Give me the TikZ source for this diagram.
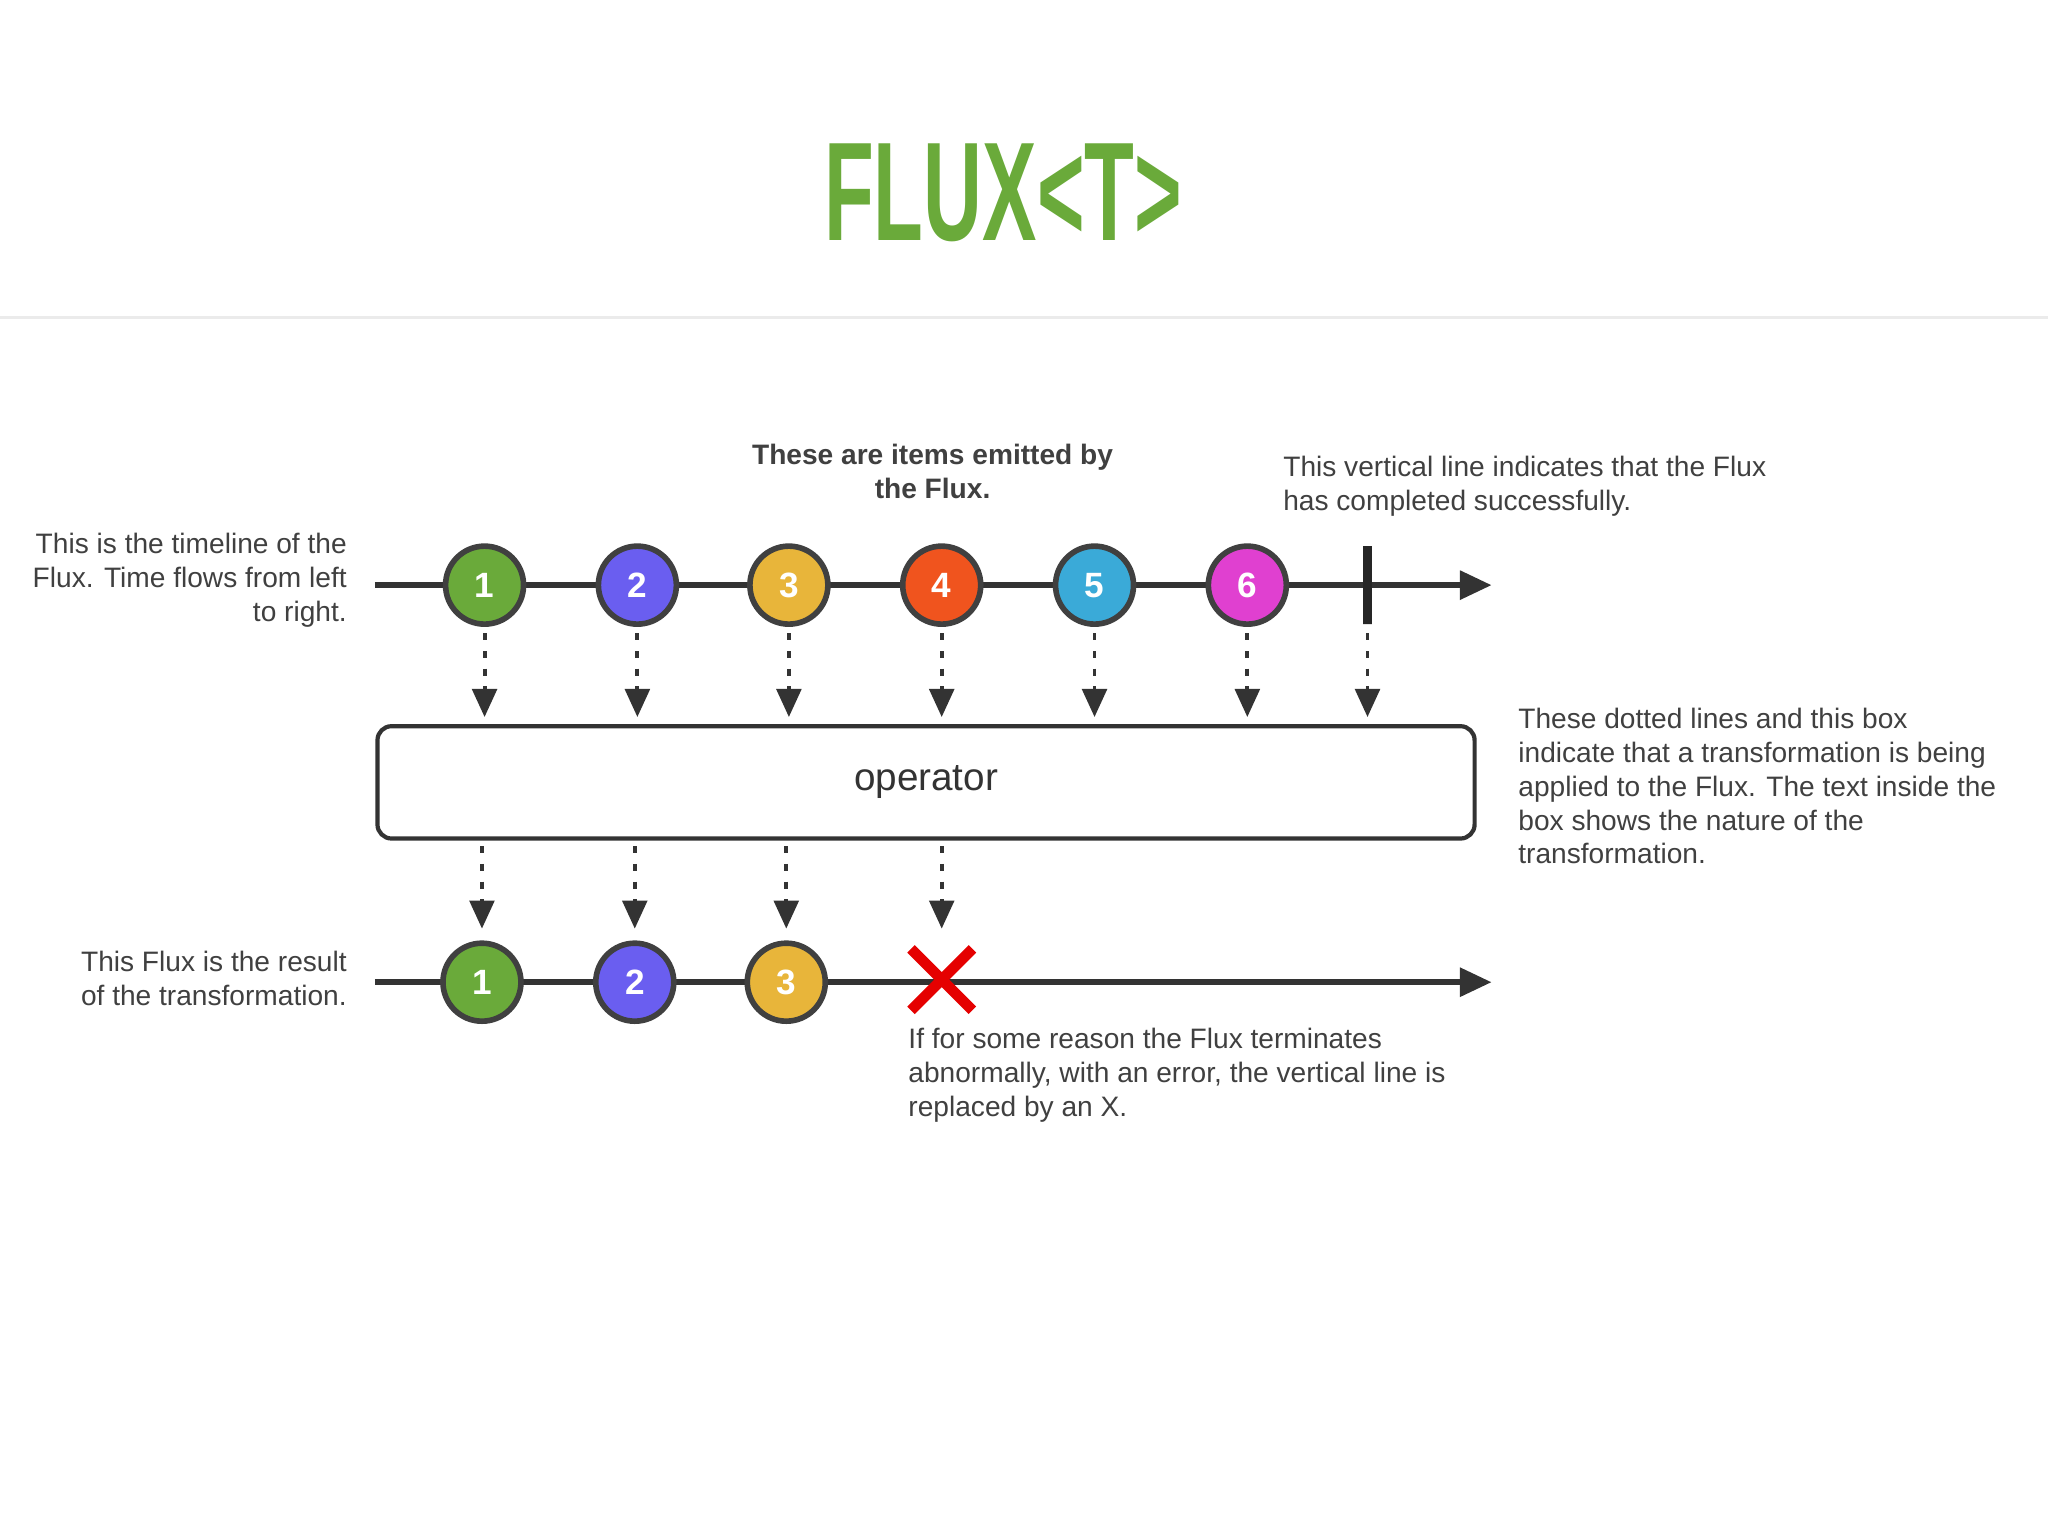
\documentclass[tikz,border=0pt]{standalone}
\usepackage{fontspec}
\setmainfont{Liberation Sans}
\usetikzlibrary{arrows.meta}
\begin{document}
\begin{tikzpicture}[x=0.01306cm,y=-0.01306cm,
  ball/.style={circle,draw=black!75,line width=1.6pt,minimum size=0.78cm,inner sep=0pt,text=white,font=\fontsize{10}{10}\selectfont\bfseries},
  tl/.style={line width=1.6pt,draw=black!80,-{Triangle[length=9pt,width=8pt]}},
  dot/.style={line width=1.1pt,draw=black!80,dash pattern=on 2pt off 3pt,-{Triangle[length=8pt,width=7pt]}},
  lbl/.style={font=\fontsize{8}{9.6}\selectfont,text=black!75,inner sep=0pt}]
\useasboundingbox (0,0) rectangle (1568,1176);
\fill[white] (0,0) rectangle (1568,1176);
\draw[black!8,line width=0.8pt] (0,243) -- (1568,243);
\node (title) at (768,148) {\color[HTML]{6AAA3A}\scalebox{0.58}[1]{\fontsize{40}{40}\selectfont\bfseries FLUX<T>}};
% timelines
\coordinate (ts) at (287,448); \coordinate (te) at (1142,448);
\draw[tl] (ts) -- (te);
\coordinate (bs) at (287,752); \coordinate (be) at (1142,752);
\draw[tl] (bs) -- (be);
\node[ball,fill={rgb,255:red,106;green,170;blue,58}] (a1) at (371,448) {1};
\node[ball,fill={rgb,255:red,106;green,94;blue,240}] (a2) at (488,448) {2};
\node[ball,fill={rgb,255:red,232;green,181;blue,58}] (a3) at (604,448) {3};
\node[ball,fill={rgb,255:red,240;green,84;blue,30}] (a4) at (721,448) {4};
\node[ball,fill={rgb,255:red,58;green,170;blue,216}] (a5) at (838,448) {5};
\node[ball,fill={rgb,255:red,224;green,64;blue,208}] (a6) at (955,448) {6};
\node[draw=black!85,line width=2.5pt,minimum height=0.78cm,minimum width=0pt,inner sep=0pt] (c) at (1047,448) {};
\node[draw=black!80,line width=1.2pt,rounded corners=4pt,minimum width=840*0.01306cm,minimum height=86*0.01306cm,font=\fontsize{11}{11}\selectfont,text=black!80] (op) at (709,599) {\raisebox{-2pt}{operator}};
\foreach \n/\x in {a1/371,a2/488,a3/604,a4/721,a5/838,a6/955,c/1047}{
  \coordinate (u\n) at (\x,485); \coordinate (v\n) at (\x,549);
  \draw[dot] (u\n) -- (v\n);}
\node[ball,fill={rgb,255:red,106;green,170;blue,58}] (b1) at (369,752) {1};
\node[ball,fill={rgb,255:red,106;green,94;blue,240}] (b2) at (486,752) {2};
\node[ball,fill={rgb,255:red,232;green,181;blue,58}] (b3) at (602,752) {3};
\node[minimum size=0.6cm] (x) at (721,750) {};
\draw[red!90!black,line width=3pt] (x.north west) -- (x.south east) (x.north east) -- (x.south west);
\foreach \n/\x in {b1/369,b2/486,b3/602,x/721}{
  \coordinate (p\n) at (\x,648); \coordinate (q\n) at (\x,711);
  \draw[dot] (p\n) -- (q\n);}
% labels
\node[lbl,align=center,font=\fontsize{8}{9.6}\selectfont\bfseries] (l1) at (714,361) {These are items emitted by\\the Flux.};
\node[lbl,align=left,anchor=north west] (l2) at (982,349) {This vertical line indicates that the Flux\\has completed successfully.};
\node[lbl,align=right,anchor=north east] (l3) at (266,408) {This is the timeline of the\\Flux. Time flows from left\\to right.};
\node[lbl,align=left,anchor=north west] (l4) at (1162,542) {These dotted lines and this box\\indicate that a transformation is being\\applied to the Flux. The text inside the\\box shows the nature of the\\transformation.};
\node[lbl,align=right,anchor=north east] (l5) at (266,728) {This Flux is the result\\of the transformation.};
\node[lbl,align=left,anchor=north west] (l6) at (695,787) {If for some reason the Flux terminates\\abnormally, with an error, the vertical line is\\replaced by an X.};
\end{tikzpicture}
\end{document}
